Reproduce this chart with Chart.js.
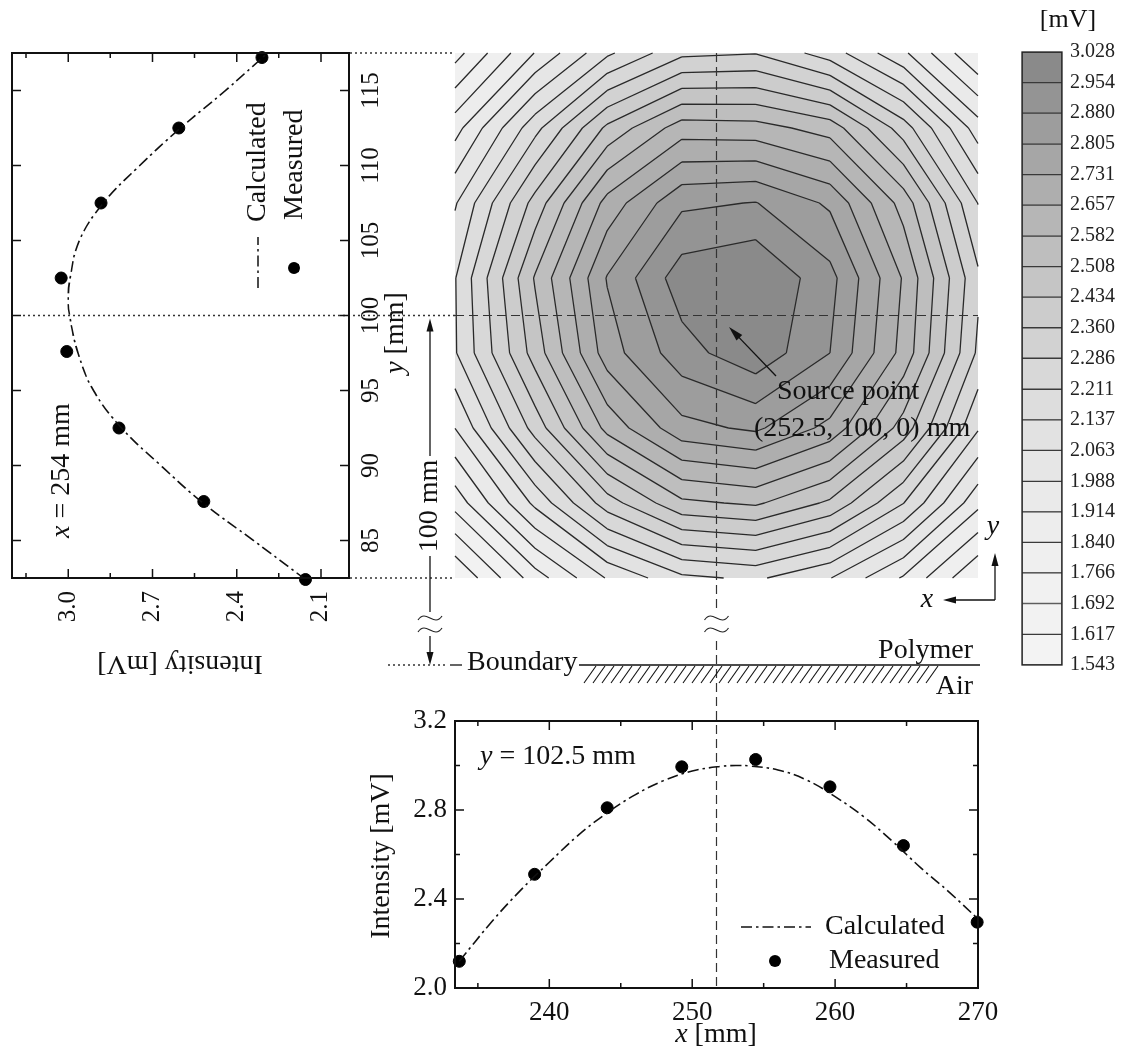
<!DOCTYPE html>
<html>
<head>
<meta charset="utf-8">
<script src="https://cdn.jsdelivr.net/npm/chart.js@4.4.1/dist/chart.umd.min.js"></script>
<style>
  html, body { margin: 0; padding: 0; background: #fff; }
  body { width: 1125px; height: 1056px; position: relative; overflow: hidden; }
  canvas { position: absolute; }
  #mapChart { left: 0; top: 0; }
  #profileY { left: 0; top: 0; transform-origin: 0 0; transform: translate(0px, 690px) rotate(-90deg); }
  #profileX { left: 360px; top: 690px; }
  #colorBar { left: 1000px; top: 0; }
</style>
</head>
<body>
<canvas id="mapChart" width="1125" height="1056"></canvas>
<canvas id="profileY" width="670" height="420"></canvas>
<canvas id="profileX" width="640" height="366"></canvas>
<canvas id="colorBar" width="125" height="700"></canvas>
<script>
// contour levels of the colour scale [mV]
const levels = [1.543, 1.617, 1.692, 1.766, 1.840, 1.914, 1.988, 2.063, 2.137, 2.211, 2.286,
  2.360, 2.434, 2.508, 2.582, 2.657, 2.731, 2.805, 2.880, 2.954, 3.028];

// intensity map [mV], one row per y position (bottom to top), one column per x position
const mapX = [233.4, 239.0, 244.05, 249.27, 254.44, 259.64, 264.78, 270.0];
const mapY = [82.5, 87.5, 92.5, 97.5, 102.5, 107.5, 112.5, 117.5];
const mapMv = [
  [1.543, 1.804, 1.994, 2.120, 2.150, 2.066, 1.905, 1.694],
  [1.795, 2.081, 2.325, 2.492, 2.520, 2.420, 2.213, 1.935],
  [1.989, 2.316, 2.606, 2.781, 2.819, 2.708, 2.476, 2.145],
  [2.130, 2.467, 2.769, 2.924, 3.006, 2.880, 2.631, 2.273],
  [2.133, 2.515, 2.810, 2.995, 3.028, 2.905, 2.650, 2.300],
  [2.055, 2.389, 2.685, 2.865, 2.883, 2.792, 2.552, 2.209],
  [1.885, 2.186, 2.451, 2.620, 2.612, 2.550, 2.323, 2.025],
  [1.662, 1.917, 2.122, 2.268, 2.282, 2.174, 2.003, 1.766],
];

// profile along y at x = 254 mm
const yMeasMm = [82.4, 87.6, 92.5, 97.6, 102.5, 107.5, 112.5, 117.2];
const yMeasMv = [2.155, 2.517, 2.819, 3.005, 3.025, 2.883, 2.606, 2.31];
const yCalcMm = [82.4, 85, 87.5, 90, 92.5, 95, 97.5, 100, 101, 102.5, 105, 107.5, 110, 112.5, 115, 117.5];
const yCalcMv = [2.155, 2.34, 2.52, 2.67, 2.81, 2.91, 2.965, 2.995, 3.0, 2.993, 2.96, 2.875, 2.745, 2.6, 2.44, 2.29];

// profile along x at y = 102.5 mm
const xMeasMm = [233.7, 238.97, 244.05, 249.27, 254.44, 259.64, 264.78, 269.94];
const xMeasMv = [2.12, 2.511, 2.81, 2.994, 3.027, 2.904, 2.640, 2.296];
const xCalcMm = [233.7, 236, 238, 240, 242, 244, 246, 248, 250, 252, 253.25, 254, 256, 258, 260, 262, 264, 266, 268, 270];
const xCalcMv = [2.12, 2.30, 2.44, 2.565, 2.685, 2.785, 2.868, 2.932, 2.975, 2.996, 3.0, 2.998, 2.98, 2.935, 2.86, 2.77, 2.66, 2.54, 2.43, 2.31];

// tick values
const xTicks = [240, 250, 260, 270];
const xMinor = [235, 245, 255, 265];
const mvTicks = [2.0, 2.4, 2.8, 3.2];
const mvMinor = [2.2, 2.6, 3.0];
const yMmTicks = [85, 90, 95, 100, 105, 110, 115];
const leftMvTicks = [2.1, 2.4, 2.7, 3.0];
const leftMvMinor = [2.25, 2.55, 2.85, 3.15];

// guide lines through the source point
const crossX = 251.7;
const crossY = 100;

const SERIF = '"Liberation Serif", "Times New Roman", serif';
Chart.defaults.font.family = SERIF;
Chart.defaults.color = '#111';
const dashDot = [11, 4, 2.5, 4];

function bandColor(k) {
  const g = Math.round(243 - 105 * Math.pow(k / 19, 1.8));
  return `rgb(${g},${g},${g})`;
}

// fixed axis box without the extra label overhang Chart.js reserves
function fixBox(w, h) {
  return s => {
    if (w !== null) s.width = w;
    if (h !== null) s.height = h;
    s.paddingTop = 0; s.paddingBottom = 0; s.paddingLeft = 0; s.paddingRight = 0;
  };
}

function richText(ctx, parts, x, y, size, align) {
  const fontOf = p => `${p.it ? 'italic ' : ''}${size}px ${SERIF}`;
  let w = 0;
  parts.forEach(p => { ctx.font = fontOf(p); w += ctx.measureText(p.t).width; });
  let cx = align === 'center' ? x - w / 2 : align === 'right' ? x - w : x;
  ctx.textAlign = 'left';
  ctx.textBaseline = 'middle';
  ctx.fillStyle = '#111';
  parts.forEach(p => { ctx.font = fontOf(p); ctx.fillText(p.t, cx, y); cx += ctx.measureText(p.t).width; });
}

function rotText(ctx, parts, x, y, size) {
  ctx.save();
  ctx.translate(x, y);
  ctx.rotate(-Math.PI / 2);
  richText(ctx, parts, 0, 0, size, 'center');
  ctx.restore();
}

function arrow(ctx, x1, y1, x2, y2, len = 13, half = 3.5) {
  const a = Math.atan2(y2 - y1, x2 - x1);
  const c = Math.cos(a), s = Math.sin(a);
  ctx.beginPath();
  ctx.moveTo(x1, y1);
  ctx.lineTo(x2 - c * len * 0.7, y2 - s * len * 0.7);
  ctx.stroke();
  ctx.beginPath();
  ctx.moveTo(x2, y2);
  ctx.lineTo(x2 - len * c + half * s, y2 - len * s - half * c);
  ctx.lineTo(x2 - len * c - half * s, y2 - len * s + half * c);
  ctx.closePath();
  ctx.fill();
}

function breakMark(ctx, x, y) {
  ctx.save();
  ctx.fillStyle = '#fff';
  ctx.fillRect(x - 13, y - 12, 26, 24);
  ctx.setLineDash([]);
  ctx.lineWidth = 1.2;
  ctx.strokeStyle = '#222';
  [-6, 6].forEach(dy => {
    ctx.beginPath();
    ctx.moveTo(x - 12, y + dy + 2);
    ctx.bezierCurveTo(x - 4, y + dy - 10, x + 4, y + dy + 10, x + 12, y + dy - 2);
    ctx.stroke();
  });
  ctx.restore();
}

// keep the part of a cell polygon where the value is >= level
function clipPoly(poly, level) {
  const out = [];
  for (let n = 0; n < poly.length; n++) {
    const a = poly[n], b = poly[(n + 1) % poly.length];
    const ina = a.v >= level, inb = b.v >= level;
    if (ina) out.push(a);
    if (ina !== inb) {
      const t = (level - a.v) / (b.v - a.v);
      out.push({ x: a.x + t * (b.x - a.x), y: a.y + t * (b.y - a.y), v: level, cut: true });
    }
  }
  return out;
}

// ticks pointing inward on all four sides, plus frame
const innerTicks = {
  id: 'innerTicks',
  afterDatasetsDraw(chart, args, opts) {
    const { ctx, chartArea: a } = chart;
    const xs = chart.scales.x, ys = chart.scales.y;
    ctx.save();
    ctx.strokeStyle = '#111';
    ctx.lineWidth = 1.5;
    ctx.beginPath();
    const vert = (vals, len) => vals.forEach(v => {
      const p = xs.getPixelForValue(v);
      ctx.moveTo(p, a.bottom); ctx.lineTo(p, a.bottom - len);
      ctx.moveTo(p, a.top); ctx.lineTo(p, a.top + len);
    });
    const horiz = (vals, len) => vals.forEach(v => {
      const p = ys.getPixelForValue(v);
      ctx.moveTo(a.left, p); ctx.lineTo(a.left + len, p);
      ctx.moveTo(a.right, p); ctx.lineTo(a.right - len, p);
    });
    vert(opts.xMajor || [], 9);
    vert(opts.xMinor || [], 5);
    horiz(opts.yMajor || [], 9);
    horiz(opts.yMinor || [], 5);
    ctx.stroke();
    ctx.lineWidth = 2;
    ctx.strokeRect(a.left, a.top, a.right - a.left, a.bottom - a.top);
    ctx.restore();
  }
};

// ---------- intensity map (full page canvas, also carries the sketch annotations)
const contourMap = {
  id: 'contourMap',
  beforeDatasetsDraw(chart) {
    const { ctx, scales: { x: xs, y: ys } } = chart;
    const px = mapX.map(v => xs.getPixelForValue(v));
    const py = mapY.map(v => ys.getPixelForValue(v));
    const cells = [];
    for (let j = 0; j < mapY.length - 1; j++) {
      for (let i = 0; i < mapX.length - 1; i++) {
        cells.push([
          { x: px[i], y: py[j], v: mapMv[j][i] },
          { x: px[i + 1], y: py[j], v: mapMv[j][i + 1] },
          { x: px[i + 1], y: py[j + 1], v: mapMv[j + 1][i + 1] },
          { x: px[i], y: py[j + 1], v: mapMv[j + 1][i] },
        ]);
      }
    }
    ctx.save();
    for (let k = 0; k < levels.length - 1; k++) {
      ctx.beginPath();
      cells.forEach(c => {
        const p = clipPoly(c, k === 0 ? -Infinity : levels[k]);
        if (p.length < 3) return;
        ctx.moveTo(p[0].x, p[0].y);
        p.slice(1).forEach(q => ctx.lineTo(q.x, q.y));
        ctx.closePath();
      });
      ctx.fillStyle = bandColor(k);
      ctx.fill();
    }
    ctx.strokeStyle = '#2a2a2a';
    ctx.lineWidth = 1.3;
    ctx.beginPath();
    for (let k = 1; k < levels.length - 1; k++) {
      cells.forEach(c => {
        const p = clipPoly(c, levels[k]);
        for (let n = 0; n < p.length; n++) {
          const a = p[n], b = p[(n + 1) % p.length];
          if (a.cut && b.cut) { ctx.moveTo(a.x, a.y); ctx.lineTo(b.x, b.y); }
        }
      });
    }
    ctx.stroke();
    ctx.restore();
  }
};

const pageDecor = {
  id: 'pageDecor',
  afterDraw(chart) {
    const { ctx, chartArea: a, scales: { x: xs, y: ys } } = chart;
    const cx = xs.getPixelForValue(crossX);
    const cy = ys.getPixelForValue(crossY);
    const line = (x1, y1, x2, y2) => { ctx.beginPath(); ctx.moveTo(x1, y1); ctx.lineTo(x2, y2); ctx.stroke(); };
    ctx.save();
    ctx.strokeStyle = '#333';
    ctx.fillStyle = '#111';

    // dotted guides from the y profile to the map
    ctx.lineWidth = 1.3;
    ctx.setLineDash([2, 3]);
    line(350, a.top, a.left, a.top);
    line(350, a.bottom, a.left, a.bottom);
    line(23, cy, a.left, cy);
    line(388, 665, 446, 665);

    // dashed cross through the source point
    ctx.setLineDash([9, 5]);
    ctx.lineWidth = 1.2;
    line(a.left, cy, a.right, cy);
    line(cx, a.top, cx, 988);
    ctx.setLineDash([]);

    // 100 mm distance arrow
    ctx.lineWidth = 1.3;
    ctx.strokeStyle = '#111';
    arrow(ctx, 430, 456, 430, cy + 3);
    arrow(ctx, 430, 556, 430, 665);
    rotText(ctx, [{ t: '100 mm' }], 430, 506, 28);
    breakMark(ctx, 430, 624);
    breakMark(ctx, cx, 624);

    // boundary between polymer and air
    line(450, 665, 462, 665);
    richText(ctx, [{ t: 'Boundary' }], 467, 663, 28, 'left');
    ctx.lineWidth = 1.5;
    line(579, 665, 980, 665);
    ctx.lineWidth = 1.1;
    for (let x = 584; x <= 926; x += 9) line(x, 683, x + 12, 666);
    ctx.font = `28px ${SERIF}`;
    ctx.textAlign = 'right';
    ctx.textBaseline = 'alphabetic';
    ctx.fillText('Polymer', 973, 658);
    richText(ctx, [{ t: 'Air' }], 973, 687, 28, 'right');

    // coordinate directions
    ctx.lineWidth = 1.3;
    arrow(ctx, 995, 600, 995, 553);
    arrow(ctx, 995, 600, 943, 600);
    richText(ctx, [{ t: 'y', it: true }], 993, 527, 28, 'center');
    richText(ctx, [{ t: 'x', it: true }], 927, 600, 28, 'center');

    // source point label
    arrow(ctx, 776, 376, 729, 327, 15, 4);
    richText(ctx, [{ t: 'Source point' }], 777, 392, 28, 'left');
    richText(ctx, [{ t: '(252.5, 100, 0) mm' }], 754, 429, 28, 'left');
    ctx.restore();
  }
};

new Chart(document.getElementById('mapChart'), {
  type: 'scatter',
  data: { datasets: [] },
  options: {
    responsive: false,
    animation: false,
    layout: { padding: { left: 455, right: 147, top: 53, bottom: 478 } },
    plugins: { legend: { display: false }, tooltip: { enabled: false } },
    scales: {
      x: { type: 'linear', min: mapX[0], max: mapX[mapX.length - 1], display: false },
      y: { type: 'linear', min: mapY[0], max: mapY[mapY.length - 1], display: false },
    },
  },
  plugins: [contourMap, pageDecor],
});

// ---------- profile along y (drawn upright, turned by CSS)
const yProfileText = {
  id: 'yProfileText',
  afterDraw(chart) {
    const ctx = chart.ctx;
    ctx.save();
    richText(ctx, [{ t: 'y', it: true }, { t: ' [mm]' }], 357, 396, 28, 'center');
    rotText(ctx, [{ t: 'Intensity [mV]' }], 27, 180, 28);
    richText(ctx, [{ t: 'x', it: true }, { t: ' = 254 mm' }], 152, 62, 28, 'left');
    ctx.strokeStyle = '#111';
    ctx.lineWidth = 1.6;
    ctx.setLineDash(dashDot);
    ctx.beginPath(); ctx.moveTo(402, 258); ctx.lineTo(453, 258); ctx.stroke();
    ctx.setLineDash([]);
    ctx.fillStyle = '#000';
    ctx.beginPath(); ctx.arc(422, 294, 6, 0, Math.PI * 2); ctx.fill();
    richText(ctx, [{ t: 'Calculated' }], 468, 258, 28, 'left');
    richText(ctx, [{ t: 'Measured' }], 470, 295, 28, 'left');
    ctx.restore();
  }
};

new Chart(document.getElementById('profileY'), {
  type: 'scatter',
  data: {
    datasets: [
      {
        label: 'Calculated',
        data: yCalcMm.map((x, i) => ({ x, y: yCalcMv[i] })),
        showLine: true, borderColor: '#111', borderWidth: 1.6, borderDash: dashDot,
        pointRadius: 0, tension: 0.4,
      },
      {
        label: 'Measured',
        data: yMeasMm.map((x, i) => ({ x, y: yMeasMv[i] })),
        pointRadius: 6, backgroundColor: '#000', borderColor: '#000', clip: false,
      },
    ],
  },
  options: {
    responsive: false,
    animation: false,
    layout: { padding: { top: 12, right: 33, left: 0, bottom: 0 } },
    plugins: {
      legend: { display: false },
      tooltip: { enabled: false },
      innerTicks: { xMajor: yMmTicks, yMajor: leftMvTicks, yMinor: leftMvMinor },
    },
    scales: {
      x: {
        type: 'linear', min: 82.5, max: 117.5,
        afterBuildTicks: s => { s.ticks = yMmTicks.map(value => ({ value })); },
        afterFit: fixBox(null, 71),
        grid: { display: false, drawTicks: false }, border: { display: false },
        ticks: { font: { size: 25 }, color: '#111', padding: 7, maxRotation: 0, autoSkip: false },
      },
      y: {
        type: 'linear', min: 2.0, max: 3.2,
        afterBuildTicks: s => { s.ticks = leftMvTicks.map(value => ({ value })); },
        afterFit: fixBox(112, null),
        grid: { display: false, drawTicks: false }, border: { display: false },
        ticks: { font: { size: 25 }, color: '#111', padding: 13, autoSkip: false, callback: v => v.toFixed(1) },
      },
    },
  },
  plugins: [innerTicks, yProfileText],
});

// ---------- profile along x
const xProfileText = {
  id: 'xProfileText',
  afterDraw(chart) {
    const ctx = chart.ctx;
    ctx.save();
    richText(ctx, [{ t: 'x', it: true }, { t: ' [mm]' }], 356, 345, 28, 'center');
    rotText(ctx, [{ t: 'Intensity [mV]' }], 22, 166, 28);
    richText(ctx, [{ t: 'y', it: true }, { t: ' = 102.5 mm' }], 120, 67, 28, 'left');
    ctx.strokeStyle = '#111';
    ctx.lineWidth = 1.6;
    ctx.setLineDash(dashDot);
    ctx.beginPath(); ctx.moveTo(381, 237); ctx.lineTo(451, 237); ctx.stroke();
    ctx.setLineDash([]);
    ctx.fillStyle = '#000';
    ctx.beginPath(); ctx.arc(415, 271, 6, 0, Math.PI * 2); ctx.fill();
    richText(ctx, [{ t: 'Calculated' }], 465, 237, 28, 'left');
    richText(ctx, [{ t: 'Measured' }], 469, 271, 28, 'left');
    ctx.restore();
  }
};

new Chart(document.getElementById('profileX'), {
  type: 'scatter',
  data: {
    datasets: [
      {
        label: 'Calculated',
        data: xCalcMm.map((x, i) => ({ x, y: xCalcMv[i] })),
        showLine: true, borderColor: '#111', borderWidth: 1.6, borderDash: dashDot,
        pointRadius: 0, tension: 0.4,
      },
      {
        label: 'Measured',
        data: xMeasMm.map((x, i) => ({ x, y: xMeasMv[i] })),
        pointRadius: 6, backgroundColor: '#000', borderColor: '#000', clip: false,
      },
    ],
  },
  options: {
    responsive: false,
    animation: false,
    layout: { padding: { top: 31, right: 22, left: 0, bottom: 0 } },
    plugins: {
      legend: { display: false },
      tooltip: { enabled: false },
      innerTicks: { xMajor: xTicks, xMinor: xMinor, yMajor: mvTicks, yMinor: mvMinor },
    },
    scales: {
      x: {
        type: 'linear', min: 233.4, max: 270,
        afterBuildTicks: s => { s.ticks = xTicks.map(value => ({ value })); },
        afterFit: fixBox(null, 68),
        grid: { display: false, drawTicks: false }, border: { display: false },
        ticks: { font: { size: 27 }, color: '#111', padding: 9, maxRotation: 0, autoSkip: false },
      },
      y: {
        type: 'linear', min: 2.0, max: 3.2,
        afterBuildTicks: s => { s.ticks = mvTicks.map(value => ({ value })); },
        afterFit: fixBox(95, null),
        grid: { display: false, drawTicks: false }, border: { display: false },
        ticks: { font: { size: 27 }, color: '#111', padding: 8, autoSkip: false, callback: v => v.toFixed(1) },
      },
    },
  },
  plugins: [innerTicks, xProfileText],
});

// ---------- colour scale
const barFrame = {
  id: 'barFrame',
  afterDraw(chart) {
    const { ctx, chartArea: a } = chart;
    ctx.save();
    ctx.strokeStyle = '#222';
    ctx.lineWidth = 1.3;
    ctx.strokeRect(a.left, a.top, a.right - a.left, a.bottom - a.top);
    richText(ctx, [{ t: '[mV]' }], 68, 20, 26, 'center');
    ctx.restore();
  }
};

new Chart(document.getElementById('colorBar'), {
  type: 'bar',
  data: {
    labels: [''],
    datasets: levels.slice(0, -1).map((lo, k) => ({
      data: [[lo, levels[k + 1]]],
      backgroundColor: bandColor(k),
      borderColor: '#3a3a3a',
      borderWidth: 1,
      borderSkipped: false,
      grouped: false,
      barPercentage: 1,
      categoryPercentage: 1,
    })),
  },
  options: {
    responsive: false,
    animation: false,
    layout: { padding: { left: 22, top: 52, bottom: 35, right: 0 } },
    plugins: { legend: { display: false }, tooltip: { enabled: false } },
    scales: {
      x: { display: false },
      y: {
        position: 'right', min: levels[0], max: levels[levels.length - 1],
        afterBuildTicks: s => { s.ticks = levels.map(value => ({ value })); },
        afterFit: fixBox(63, null),
        grid: { display: false, drawTicks: false }, border: { display: false },
        ticks: { font: { size: 20 }, color: '#222', padding: 8, autoSkip: false, callback: v => v.toFixed(3) },
      },
    },
  },
  plugins: [barFrame],
});
</script>
</body>
</html>
